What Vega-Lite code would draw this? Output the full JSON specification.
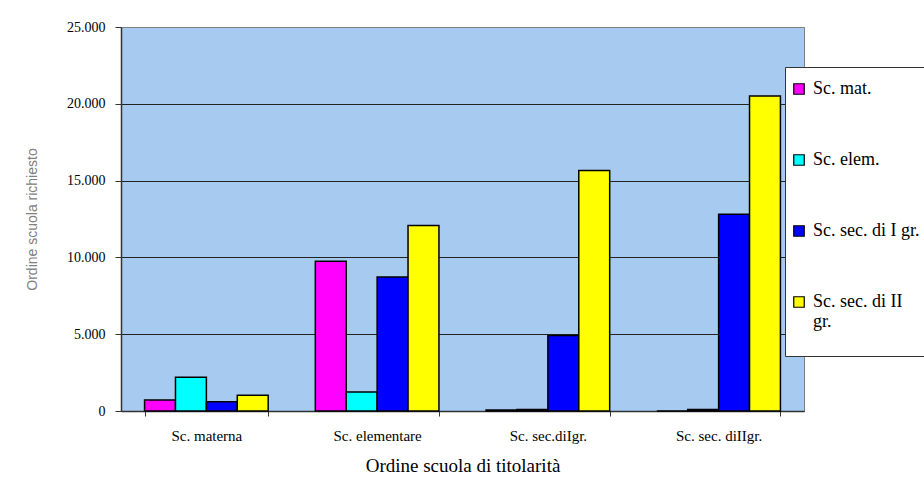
{
  "$schema": "https://vega.github.io/schema/vega-lite/v6.json",
  "width": 683,
  "height": 384,
  "autosize": {"type": "none"},
  "padding": {"left": 121, "top": 27, "right": 120, "bottom": 75},
  "background": "white",
  "data": {
    "values": [
      {"ordine": "Sc. materna", "richiesto": "Sc. mat.", "n": 715},
      {"ordine": "Sc. materna", "richiesto": "Sc. elem.", "n": 2190},
      {"ordine": "Sc. materna", "richiesto": "Sc. sec. di I gr.", "n": 610},
      {"ordine": "Sc. materna", "richiesto": "Sc. sec. di II gr.", "n": 1020},
      {"ordine": "Sc. elementare", "richiesto": "Sc. mat.", "n": 9750},
      {"ordine": "Sc. elementare", "richiesto": "Sc. elem.", "n": 1240},
      {"ordine": "Sc. elementare", "richiesto": "Sc. sec. di I gr.", "n": 8730},
      {"ordine": "Sc. elementare", "richiesto": "Sc. sec. di II gr.", "n": 12070},
      {"ordine": "Sc. sec.diIgr.", "richiesto": "Sc. mat.", "n": 60},
      {"ordine": "Sc. sec.diIgr.", "richiesto": "Sc. elem.", "n": 90},
      {"ordine": "Sc. sec.diIgr.", "richiesto": "Sc. sec. di I gr.", "n": 4920},
      {"ordine": "Sc. sec.diIgr.", "richiesto": "Sc. sec. di II gr.", "n": 15650},
      {"ordine": "Sc. sec. diIIgr.", "richiesto": "Sc. mat.", "n": 0},
      {"ordine": "Sc. sec. diIIgr.", "richiesto": "Sc. elem.", "n": 100},
      {"ordine": "Sc. sec. diIIgr.", "richiesto": "Sc. sec. di I gr.", "n": 12810},
      {"ordine": "Sc. sec. diIIgr.", "richiesto": "Sc. sec. di II gr.", "n": 20500}
    ]
  },
  "mark": {"type": "bar", "stroke": "black", "strokeWidth": 1.5},
  "encoding": {
    "x": {
      "field": "ordine",
      "type": "nominal",
      "sort": ["Sc. materna", "Sc. elementare", "Sc. sec.diIgr.", "Sc. sec. diIIgr."],
      "scale": {"paddingInner": 0.276, "paddingOuter": 0.138},
      "axis": {
        "title": "Ordine scuola di titolarità",
        "titleFont": "Liberation Serif",
        "titleFontSize": 19,
        "titleFontWeight": "normal",
        "titleColor": "black",
        "titlePadding": 13,
        "labelFont": "Liberation Serif",
        "labelFontSize": 15,
        "labelColor": "black",
        "labelAngle": 0,
        "labelPadding": 12,
        "tickBand": "extent",
        "tickSize": 5,
        "tickColor": "#333333",
        "domainColor": "#333333",
        "domainWidth": 1.5
      }
    },
    "xOffset": {
      "field": "richiesto",
      "sort": ["Sc. mat.", "Sc. elem.", "Sc. sec. di I gr.", "Sc. sec. di II gr."],
      "scale": {"paddingInner": 0, "paddingOuter": 0}
    },
    "y": {
      "field": "n",
      "type": "quantitative",
      "scale": {"domain": [0, 25000], "nice": false},
      "axis": {
        "title": "Ordine scuola richiesto",
        "titleFont": "Liberation Sans",
        "titleFontSize": 14,
        "titleFontWeight": "normal",
        "titleColor": "#808080",
        "titlePadding": 27,
        "values": [0, 5000, 10000, 15000, 20000, 25000],
        "labelExpr": "replace(format(datum.value, ','), ',', '.')",
        "labelFont": "Liberation Serif",
        "labelFontSize": 14,
        "labelColor": "black",
        "labelPadding": 10,
        "tickSize": 6,
        "tickColor": "#333333",
        "domainColor": "#333333",
        "domainWidth": 1.5,
        "grid": true,
        "gridColor": {"condition": {"test": "datum.value == 25000", "value": "#808080"}, "value": "#222222"},
        "gridWidth": 1
      }
    },
    "color": {
      "field": "richiesto",
      "type": "nominal",
      "sort": ["Sc. mat.", "Sc. elem.", "Sc. sec. di I gr.", "Sc. sec. di II gr."],
      "scale": {
        "domain": ["Sc. mat.", "Sc. elem.", "Sc. sec. di I gr.", "Sc. sec. di II gr."],
        "range": ["#FF00FF", "#00FFFF", "#0000FF", "#FFFF00"]
      },
      "legend": {
        "title": " ",
        "titleFontSize": 4,
        "titlePadding": 4,
        "orient": "none",
        "legendX": 664,
        "legendY": 40,
        "fillColor": "white",
        "strokeColor": "#333333",
        "padding": 5,
        "symbolType": "square",
        "symbolSize": 110,
        "symbolStrokeColor": "black",
        "symbolStrokeWidth": 1.2,
        "symbolOpacity": 1,
        "labelFont": "Liberation Serif",
        "labelFontSize": 18,
        "labelColor": "black",
        "labelOffset": 5,
        "labelLimit": 300,
        "labelLineHeight": 24,
        "rowPadding": 53,
        "labelExpr": "datum.label == 'Sc. sec. di II gr.' ? ['Sc. sec. di II', 'gr.', ''] : datum.label"
      }
    }
  },
  "config": {
    "view": {"fill": "#A6CAF0", "stroke": "#808080"}
  }
}
